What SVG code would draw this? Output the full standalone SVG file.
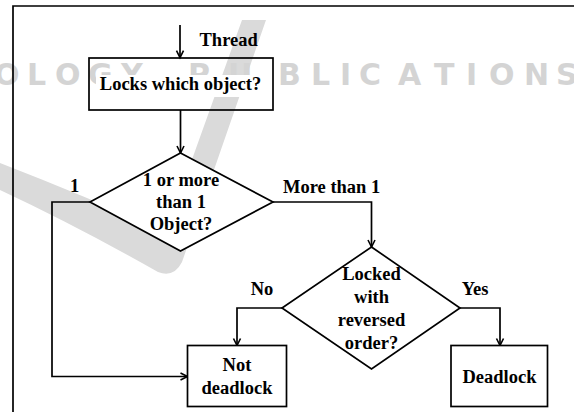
<svg xmlns="http://www.w3.org/2000/svg" width="574" height="412" viewBox="0 0 574 412">
<style>
text.t{font-family:'Liberation Serif','Times New Roman',serif;font-weight:700;font-size:18.5px;fill:#000}
text.m{text-anchor:middle}
.s{fill:none;stroke:#000;stroke-width:1.7}
.n{fill:#fff;stroke:#000;stroke-width:1.7}
.o{fill:none;stroke:#000;stroke-width:1.7}
.wm{fill:#dadada}
text.wt{font-family:'DejaVu Sans',sans-serif;font-weight:700;font-size:30px;fill:#d4d4d4}
</style>
<defs>
<marker id="a" viewBox="-8 -5 10 10" refX="0" refY="0" markerWidth="10" markerHeight="10" markerUnits="userSpaceOnUse" orient="auto">
<path d="M-7,-3.5 L0,0 L-7,3.5" fill="none" stroke="#000" stroke-width="1.6"/>
</marker>
</defs>
<rect width="574" height="412" fill="#fff"/>
<g id="watermark">
<path class="wm" d="M242,20 L266,20 L182,262 Q174,278 158,272 Q75,225 0,190 L0,163 Q85,196 166,232 Z"/>
<text class="wt" x="-6 27 55 88 121" y="85">OLOGY</text>
<text class="wt" x="188 228 278 311 340 359 398 434 466 489 524 556" y="85">PUBLICATIONS</text>
</g>
<path class="s" d="M13,412 V6 H574"/>
<g id="connectors">
<path class="s" d="M180,25 V57.7" marker-end="url(#a)"/>
<path class="s" d="M180.5,110 V153" marker-end="url(#a)"/>
<path class="s" d="M90,202 H52 V376.5 H187.5" marker-end="url(#a)"/>
<path class="s" d="M273,202 H371.5 V247" marker-end="url(#a)"/>
<path class="s" d="M282,308 H237 V345.5" marker-end="url(#a)"/>
<path class="s" d="M460,308 H500 V345.5" marker-end="url(#a)"/>
<text class="t" x="199.5" y="45.7">Thread</text>
<text class="t" x="70" y="192">1</text>
<text class="t" x="283" y="193">More than 1</text>
<text class="t" x="250.7" y="295">No</text>
<text class="t" x="461.7" y="295">Yes</text>
</g>
<g id="locks">
<rect x="96" y="75" width="170" height="22" fill="#fff"/>
<rect class="o" x="89" y="58" width="184" height="52"/>
<text class="t m" x="180.5" y="90">Locks which object?</text>
</g>
<g id="count">
<polygon class="n" points="180.5,153 273,202 180.5,251 90,202"/>
<text class="t m" x="181" y="185.5">1 or more</text>
<text class="t m" x="181" y="207.5">than 1</text>
<text class="t m" x="181" y="229.5">Object?</text>
</g>
<g id="reversed">
<polygon class="n" points="371.5,247 460,308 371.5,369 282,308"/>
<text class="t m" x="371.5" y="280">Locked</text>
<text class="t m" x="371.5" y="303">with</text>
<text class="t m" x="371.5" y="326">reversed</text>
<text class="t m" x="371.5" y="348.5">order?</text>
</g>
<g id="notdeadlock">
<rect class="n" x="187.5" y="345.5" width="99" height="61"/>
<text class="t m" x="237" y="371">Not</text>
<text class="t m" x="237" y="393.5">deadlock</text>
</g>
<g id="deadlock">
<rect class="n" x="451" y="345.5" width="96.5" height="61"/>
<text class="t m" x="499.5" y="383">Deadlock</text>
</g>
</svg>
